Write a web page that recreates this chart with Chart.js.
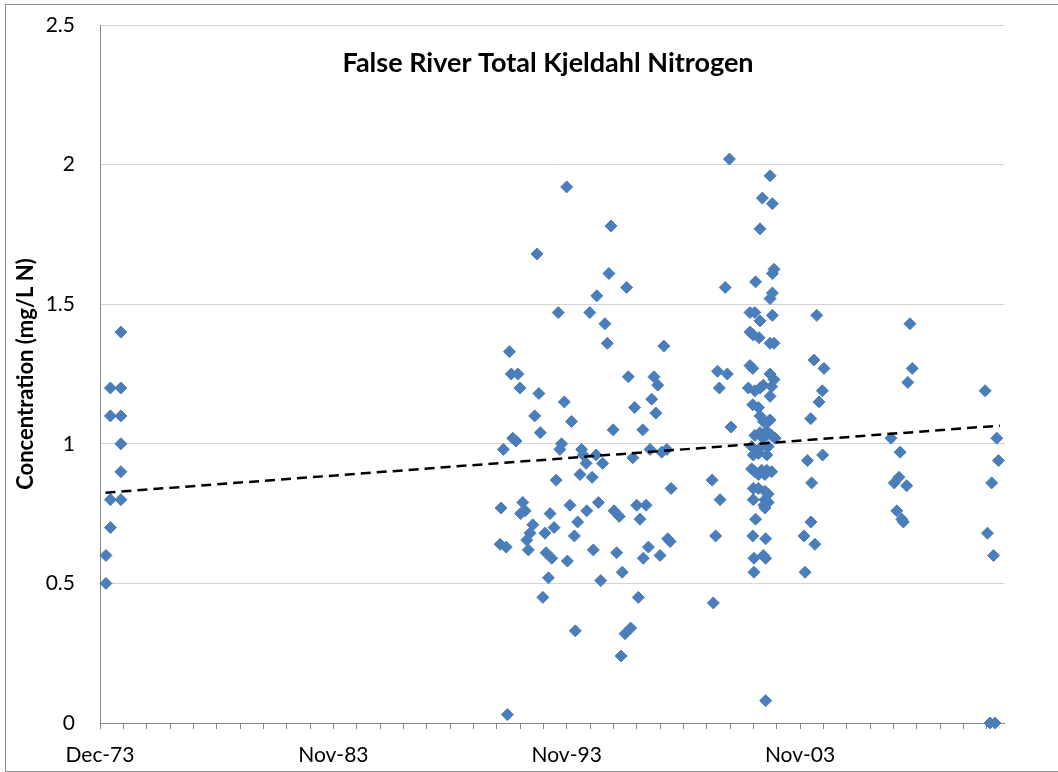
<!DOCTYPE html>
<html>
<head>
<meta charset="utf-8">
<title>False River Total Kjeldahl Nitrogen</title>
<script src="https://cdn.jsdelivr.net/npm/chart.js@4.4.1/dist/chart.umd.min.js"></script>
<style>
    html, body { margin: 0; padding: 0; background: #fff; overflow: hidden; }
    #wrap { position: relative; width: 1058px; height: 772px; }
    #frame {
        position: absolute; left: 5px; top: 4px; width: 1100px; height: 766px;
        border: 1px solid #8c8c8c; pointer-events: none;
    }
</style>
</head>
<body>
<div id="wrap">
    <canvas id="chart" width="1058" height="772"></canvas>
    <div id="frame"></div>
</div>
<script>
const chartTitle = 'False River Total Kjeldahl Nitrogen';
const yAxisTitle = 'Concentration (mg/L N)';
const tickLabels = ['Dec-73', 'Nov-83', 'Nov-93', 'Nov-03'];

// sample dates as decimal years
const sampleYears = [
    1974.17, 1974.17, 1974.36, 1974.36, 1974.36, 1974.36, 1974.81, 1974.81, 1974.81, 1974.81, 1974.81, 1974.81,
    1991.05, 1991.09, 1991.19, 1991.31, 1991.36, 1991.45, 1991.53, 1991.59, 1991.73, 1991.81, 1991.90, 1991.93,
    1992.02, 1992.12, 1992.19, 1992.26, 1992.33, 1992.45, 1992.53, 1992.63, 1992.71, 1992.77, 1992.88, 1992.97,
    1993.02, 1993.12, 1993.19, 1993.26, 1993.36, 1993.45, 1993.54, 1993.61, 1993.68, 1993.80, 1993.90, 1993.93,
    1994.04, 1994.11, 1994.23, 1994.27, 1994.37, 1994.47, 1994.54, 1994.61, 1994.73, 1994.76, 1994.89, 1994.99,
    1995.04, 1995.16, 1995.19, 1995.26, 1995.36, 1995.44, 1995.54, 1995.64, 1995.71, 1995.80, 1995.89, 1995.93,
    1996.04, 1996.15, 1996.23, 1996.28, 1996.40, 1996.47, 1996.54, 1996.64, 1996.73, 1996.81, 1996.90, 1996.97,
    1997.04, 1997.16, 1997.18, 1997.30, 1997.40, 1997.47, 1997.54, 1997.64, 1997.72, 1997.80, 1997.90, 1997.97,
    1998.06, 1998.19, 1998.23, 1998.33, 1998.37,
    2000.13, 2000.18, 2000.28, 2000.36, 2000.44, 2000.47, 2000.69, 2000.78, 2000.87, 2000.94,
    2001.68, 2001.75, 2001.75, 2001.75, 2001.82, 2001.82, 2001.87, 2001.87, 2001.87, 2001.89, 2001.89, 2001.89,
    2001.89, 2001.92, 2001.92, 2001.96, 2001.96, 2001.96, 2001.96, 2001.99, 2001.99, 2002.11, 2002.11, 2002.11,
    2002.11, 2002.14, 2002.18, 2002.18, 2002.18, 2002.18, 2002.18, 2002.18, 2002.25, 2002.28, 2002.32, 2002.32,
    2002.32, 2002.32, 2002.35, 2002.39, 2002.39, 2002.39, 2002.39, 2002.42, 2002.42, 2002.42, 2002.47, 2002.47,
    2002.47, 2002.53, 2002.53, 2002.53, 2002.53, 2002.61, 2002.61, 2002.61, 2002.61, 2002.61, 2002.61, 2002.68,
    2002.68, 2002.68, 2002.71, 2002.71, 2002.71, 2002.71, 2002.78, 2002.78, 2002.78, 2002.83,
    2004.06, 2004.11, 2004.21, 2004.35, 2004.36, 2004.39, 2004.49, 2004.53, 2004.61, 2004.71, 2004.85, 2004.86,
    2004.92,
    2007.79, 2007.93, 2008.04, 2008.13, 2008.18, 2008.25, 2008.32, 2008.46, 2008.51, 2008.60, 2008.70,
    2011.82, 2011.92, 2012.03, 2012.10, 2012.18, 2012.24, 2012.32, 2012.39
];

const tknValues = [
    0.60, 0.50, 0.70, 0.80, 1.10, 1.20, 0.80, 0.90, 1.00, 1.10, 1.20, 1.40,
    0.64, 0.77, 0.98, 0.63, 0.03, 1.33, 1.25, 1.02, 1.01, 1.25, 1.20, 0.75,
    0.79, 0.76, 0.655, 0.62, 0.68, 0.71, 1.10, 1.68, 1.18, 1.04, 0.45, 0.68,
    0.61, 0.52, 0.75, 0.59, 0.70, 0.87, 1.47, 0.98, 1.00, 1.15, 1.92, 0.58,
    0.78, 1.08, 0.67, 0.33, 0.72, 0.89, 0.98, 0.96, 0.93, 0.76, 1.47, 0.88,
    0.62, 0.96, 1.53, 0.79, 0.51, 0.93, 1.43, 1.36, 1.61, 1.78, 1.05, 0.76,
    0.61, 0.74, 0.24, 0.54, 0.32, 1.56, 1.24, 0.34, 0.95, 1.13, 0.78, 0.45,
    0.73, 1.05, 0.59, 0.78, 0.63, 0.98, 1.16, 1.24, 1.11, 1.21, 0.60, 0.97,
    1.35, 0.98, 0.66, 0.65, 0.84,
    0.87, 0.43, 0.67, 1.26, 1.20, 0.80, 1.56, 1.25, 2.02, 1.06,
    1.20, 1.47, 1.40, 1.28, 0.99, 0.91, 1.27, 1.14, 0.67, 1.39, 0.96, 0.84,
    0.80, 0.59, 0.54, 1.47, 1.19, 1.03, 0.90, 1.58, 0.73, 1.13, 0.965, 0.89,
    0.84, 1.38, 1.77, 1.44, 1.20, 1.10, 1.04, 0.984, 0.905, 1.88, 1.21, 1.08,
    1.02, 0.60, 0.78, 0.89, 0.83, 0.80, 0.77, 0.66, 0.59, 0.08, 1.045, 0.96,
    0.905, 1.08, 0.99, 0.82, 0.79, 1.96, 1.52, 1.36, 1.25, 1.17, 1.085, 1.205,
    1.03, 0.90, 1.86, 1.61, 1.54, 1.46, 1.625, 1.36, 1.23, 1.02,
    0.67, 0.54, 0.94, 1.09, 0.72, 0.86, 1.30, 0.64, 1.46, 1.15, 1.19, 0.96,
    1.27,
    1.02, 0.86, 0.76, 0.88, 0.97, 0.73, 0.72, 0.85, 1.22, 1.43, 1.27,
    1.19, 0.68, 0.00, 0.86, 0.60, 0.00, 1.02, 0.94
];

// linear trend line end points
const trendYears = [1974.15, 2012.45];
const trendValues = [0.825, 1.065];

const axisStart = 1973.915;   // Dec-73
const axisEnd = 2012.65;
const minorStep = 365 / 365.25; // one tick per 365 days, label every tenth

const titlePlugin = {
    id: 'chartTitle',
    afterDraw(chart) {
        const ctx = chart.ctx;
        ctx.save();
        ctx.font = 'bold 27px Lato';
        ctx.fillStyle = '#000';
        ctx.textAlign = 'center';
        ctx.textBaseline = 'alphabetic';
        ctx.fillText(chartTitle, 548, 72);
        ctx.restore();
    }
};

document.addEventListener('DOMContentLoaded', () => {
    const points = sampleYears.map((year, i) => ({ x: year, y: tknValues[i] }));
    const trend = trendYears.map((year, i) => ({ x: year, y: trendValues[i] }));

    const ctx = document.getElementById('chart').getContext('2d');
    new Chart(ctx, {
        type: 'scatter',
        data: {
            datasets: [
                {
                    label: 'Trend',
                    data: trend,
                    showLine: true,
                    borderColor: '#000',
                    borderWidth: 2.5,
                    borderDash: [10, 6],
                    pointRadius: 0,
                    fill: false,
                    order: 0
                },
                {
                    label: 'TKN',
                    data: points,
                    pointStyle: 'rectRot',
                    pointRadius: 6,
                    pointBorderWidth: 1,
                    backgroundColor: '#4A7EBB',
                    borderColor: '#4A7EBB',
                    clip: false,
                    order: 1
                }
            ]
        },
        options: {
            responsive: false,
            devicePixelRatio: 1,
            animation: false,
            layout: { padding: { top: 25, right: 53.5, bottom: 0, left: 0 } },
            plugins: {
                legend: { display: false },
                tooltip: { enabled: false }
            },
            scales: {
                x: {
                    type: 'linear',
                    min: axisStart,
                    max: axisEnd,
                    border: { color: '#868686', width: 1 },
                    grid: { drawOnChartArea: false, drawTicks: true, tickLength: 6, color: '#868686' },
                    ticks: {
                        autoSkip: false,
                        maxRotation: 0,
                        minRotation: 0,
                        padding: 14,
                        color: '#000',
                        font: { family: 'Lato', size: 21 },
                        callback: (value, index) => (index % 10 === 0 ? tickLabels[index / 10] : '')
                    },
                    afterBuildTicks: scale => {
                        const ticks = [];
                        for (let k = 0; axisStart + k * minorStep <= axisEnd; k++) {
                            ticks.push({ value: axisStart + k * minorStep });
                        }
                        scale.ticks = ticks;
                    },
                    afterFit: scale => {
                        scale.height = 49;
                        scale.paddingLeft = 0;
                        scale.paddingRight = 0;
                    }
                },
                y: {
                    min: 0,
                    max: 2.5,
                    border: { color: '#868686', width: 1 },
                    grid: { color: '#d4d4d4', drawTicks: false },
                    ticks: {
                        stepSize: 0.5,
                        padding: 25,
                        color: '#000',
                        font: { family: 'Lato', size: 21 },
                        callback: value => String(value)
                    },
                    title: {
                        display: true,
                        text: yAxisTitle,
                        color: '#000',
                        font: { family: 'Lato', size: 22, weight: 'bold' },
                        padding: { top: 13, bottom: 0 }
                    },
                    afterFit: scale => {
                        scale.width = 100;
                        scale.paddingTop = 0;
                        scale.paddingBottom = 0;
                    }
                }
            }
        },
        plugins: [titlePlugin]
    });
});
</script>
</body>
</html>
